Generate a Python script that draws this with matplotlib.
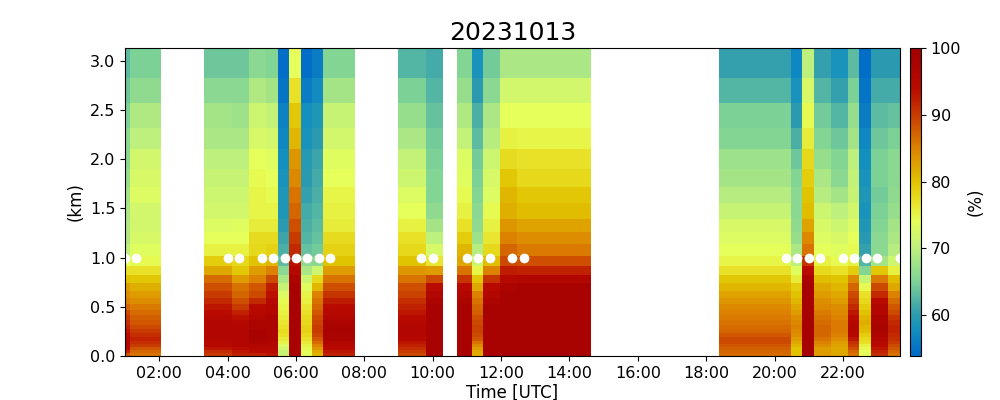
import numpy as np
import matplotlib
matplotlib.use('Agg')
import matplotlib.pyplot as plt
from matplotlib.colors import LinearSegmentedColormap, Normalize

# height edges of the profile levels, km, top to bottom
height_edges = [3.132, 2.83, 2.57, 2.32, 2.10, 1.905, 1.72, 1.553, 1.397, 1.264,
                1.139, 1.02, 0.919, 0.827, 0.746, 0.664, 0.593, 0.529, 0.468, 0.417,
                0.366, 0.315, 0.275, 0.234, 0.19, 0.15, 0.119, 0.089, 0.058, 0.027, 0.0]

# relative humidity (%), top level first
rh_0100 = [63, 64, 65, 66, 66, 67, 68, 68.5, 69, 69, 70, 74, 77, 80, 83, 84, 85, 87, 89, 90, 91, 92, 93, 94, 95, 96, 96, 95, 92, 88]
rh_0120 = [65, 66.5, 69, 70, 72, 72.5, 73, 72, 72, 72.5, 73.5, 74.5, 77, 79.5, 81.5, 83, 84, 85.5, 86.5, 87.5, 88, 89, 90, 91, 92, 91, 90, 88, 87, 86]
rh_0400 = [64, 66, 68, 68.5, 70, 71, 71.5, 72, 73, 74, 75.5, 79, 82, 86.5, 88.5, 90, 91.5, 93, 94, 95, 96, 96, 96, 96, 96, 95, 95, 93, 91, 90]
rh_0420 = [64, 66, 67.5, 68.5, 70, 71, 71.5, 72, 73.5, 74, 75.5, 78, 79.5, 83, 86, 87, 88.5, 90, 92, 93.5, 95, 96, 96, 96, 96, 96, 95.5, 94, 93, 92]
rh_0500 = [66, 69, 71.5, 72.5, 74, 74.5, 75, 75, 76, 77.5, 78, 80, 83, 85, 88, 89, 91.5, 94.5, 95, 96, 97, 97, 98, 98, 98, 97, 96, 95, 94, 92]
rh_0520 = [65.5, 68, 70.5, 72, 73.5, 74, 74.5, 75, 76, 77.5, 78.5, 81, 85, 89, 92.5, 93.5, 95, 96, 96, 97, 97, 97, 97, 97, 97, 96, 96, 95, 94, 93]
rh_0540 = [54.5, 55, 56.5, 57, 58, 58.5, 59, 59, 60, 61, 62, 63, 66, 68.5, 71, 73, 74.5, 75, 75.5, 76, 76.5, 77, 77.5, 77, 76, 75, 73, 72, 71, 71]
rh_0600 = [74, 77, 79.5, 81, 83.5, 84.5, 86, 87, 88.5, 90, 91.5, 93.5, 95, 97, 98, 98, 98, 98, 98, 98, 98, 98, 98, 98, 98, 98, 98, 98, 98, 98]
rh_0620 = [54.5, 56, 58, 58.5, 59.5, 60, 60.5, 61.5, 62, 62.5, 63.5, 66.5, 68.5, 71.5, 73.5, 75, 75.5, 76.5, 77, 77.5, 78, 78.5, 78.5, 78, 77, 76, 75, 74.5, 74, 74]
rh_0640 = [56, 57.5, 59, 60, 61, 61.5, 62, 62.5, 63, 63.5, 64.5, 66, 71.5, 78, 81, 85, 86, 87, 88, 89, 89.5, 90, 90, 89.5, 88, 86.5, 85, 83.5, 82, 81]
rh_0700 = [65.5, 68, 71, 72, 73.5, 74, 75, 75.5, 76, 77.5, 78.5, 80, 83, 86, 88.5, 90.5, 92.5, 94, 95, 96, 97, 97.5, 98, 97.5, 97, 96, 95, 94, 93, 92]
rh_0940 = [62.5, 65, 67, 68.5, 70.5, 71.5, 73, 74, 75.5, 77, 78, 80, 83.5, 86, 88.5, 89.5, 91, 92, 93, 94, 95, 95.5, 96, 96, 95, 93, 92, 91, 90, 89]
rh_1000 = [61.5, 62.5, 63.5, 64.5, 65, 65.5, 65.5, 66.5, 68, 70, 72.5, 76.5, 83, 89, 94, 96, 97, 98, 98, 98, 98, 98, 98, 98, 98, 98, 98, 98, 98, 98]
rh_1100 = [65.5, 67, 69, 70.5, 73, 73.5, 74.5, 75.5, 77, 79, 81, 82, 86, 90.5, 94.5, 95.5, 97, 98, 98, 98, 98, 98, 98, 98, 98, 98, 98, 98, 98, 98]
rh_1120 = [58.5, 60, 62, 63, 64.5, 65, 65.5, 66, 66.5, 67.5, 69.5, 71.5, 75, 79.5, 82, 85, 86, 87, 87.5, 88.5, 89, 89.5, 89.5, 89, 88, 86, 84.5, 83, 82, 81.5]
rh_1140 = [64.5, 66, 68.5, 69.5, 71.5, 72.5, 73, 74.5, 75.5, 76.5, 78, 80.5, 85, 90.5, 94.5, 96, 97, 98, 98, 98, 98, 98, 98, 98, 98, 98, 98, 98, 98, 98]
rh_1220 = [68.5, 72, 74, 75.5, 77.5, 79.5, 81, 81.5, 83.5, 85, 87, 89, 92.5, 95, 97, 98, 98, 98, 98, 98, 98, 98, 98, 98, 98, 98, 98, 98, 98, 98]
rh_1240 = [68.5, 72, 74, 75, 77, 78, 79.5, 80.5, 82.5, 84, 85.5, 88.5, 92, 96, 98, 98, 98, 98, 98, 98, 98, 98, 98, 98, 98, 98, 98, 98, 98, 98]
rh_2020 = [60.5, 62.5, 65, 65.5, 67.5, 68, 69.5, 71, 72.5, 73, 74, 75, 77, 79.5, 81, 82.5, 83.5, 84.5, 85, 85.5, 86, 86.5, 87, 88, 89, 89, 88, 87.5, 87, 86.5]
rh_2040 = [57, 58.5, 60, 62, 64, 65.5, 66, 66, 66.5, 67, 68.5, 70, 73.5, 76, 79, 80, 81, 82, 83, 84, 84.5, 85, 84.5, 84, 83, 82, 81, 80, 80, 80]
rh_2100 = [70, 72.5, 74.5, 76, 78, 79, 80, 80.5, 82.5, 84.5, 86, 90.5, 94, 97.5, 98.5, 98.5, 98.5, 98.5, 98.5, 98.5, 98.5, 98.5, 98.5, 98.5, 98.5, 98.5, 98.5, 98.5, 98.5, 98.5]
rh_2120 = [60.5, 62.5, 64.5, 65.5, 67, 68.5, 69.5, 71.5, 72.5, 73, 74, 75.5, 78, 80.5, 82, 83, 84, 84.5, 85.5, 86, 86.5, 87, 87, 87, 86, 85, 84, 83, 83, 83]
rh_2200 = [58.5, 60.5, 62.5, 64, 65.5, 66, 68, 70, 71.5, 72.5, 73.5, 74.5, 77, 80, 81, 82, 83, 84, 84.5, 85, 85.5, 85.5, 85.5, 85, 84, 83, 82.5, 82, 82, 82]
rh_2220 = [63, 65, 67, 68, 70, 70.5, 71, 72, 73, 74, 74.5, 75.5, 79, 84.5, 87, 89, 90, 91.5, 93, 94, 95, 96, 96, 95, 93, 91, 90, 88.5, 87, 86]
rh_2240 = [54.5, 55, 56, 57, 58, 58.5, 59, 58.5, 59, 59.5, 60.5, 62.5, 65.5, 71, 74.5, 77, 78, 79, 80, 81, 81.5, 81, 80.5, 79, 78, 77, 75.5, 74.5, 74, 74]
rh_2300 = [60, 61.5, 63, 64, 65, 65, 64.5, 65, 65.5, 66, 66, 68, 79.5, 85.5, 89, 91.5, 94.5, 95.5, 96, 97, 97, 97.5, 97.5, 97, 96, 95, 94, 93, 92, 91]
rh_2340 = [60, 61.5, 63.5, 65, 66, 66, 66.5, 67, 68, 68.5, 69.5, 71.5, 75.5, 80.5, 82, 85, 86.5, 88, 89, 90.5, 91.5, 92, 92, 91.5, 91, 90, 89, 88, 87, 86]

# continuous runs of profiles, with their time edges (hours UTC); white between runs
blocks = [
    ([1.0, 1.146, 2.053], [rh_0100, rh_0120]),
    ([3.311, 4.130, 4.627, 5.124, 5.475, 5.797, 6.148, 6.469, 6.791, 7.727],
     [rh_0400, rh_0420, rh_0500, rh_0520, rh_0540, rh_0600, rh_0620, rh_0640, rh_0700]),
    ([8.985, 9.804, 10.301], [rh_0940, rh_1000]),
    ([10.710, 11.149, 11.471, 11.968, 12.465, 14.630],
     [rh_1100, rh_1120, rh_1140, rh_1220, rh_1240]),
    ([18.374, 20.480, 20.801, 21.152, 21.649, 22.147, 22.468, 22.819, 23.316, 23.667],
     [rh_2020, rh_2040, rh_2100, rh_2120, rh_2200, rh_2220, rh_2240, rh_2300, rh_2340]),
]

# profile times marked at 1 km
marker_times = ['01:00', '01:20', '04:00', '04:20', '05:00', '05:20', '05:40', '06:00', '06:20', '06:40', '07:00',
                '09:40', '10:00', '11:00', '11:20', '11:40', '12:20', '12:40',
                '20:20', '20:40', '21:00', '21:20', '22:00', '22:20', '22:40', '23:00', '23:40']
marker_height = 1.0

tick_hours = [2, 4, 6, 8, 10, 12, 14, 16, 18, 20, 22]
tick_labels = ['02:00', '04:00', '06:00', '08:00', '10:00', '12:00', '14:00', '16:00', '18:00', '20:00', '22:00']

# colour scale
cmap_values = [53.9, 58, 60, 65, 70, 74, 77, 80, 85, 90, 94, 100]
cmap_colors = ['#0069c8', '#1491be', '#2d9baf', '#7dd296', '#bef07d', '#e6ff5a',
               '#e8e128', '#e1c300', '#dc8200', '#c83c00', '#b90a00', '#a00000']
vmin, vmax = 53.9, 100

stops = [(v - vmin) / (vmax - vmin) for v in cmap_values]
rh_cmap = LinearSegmentedColormap.from_list('rh', list(zip(stops, cmap_colors)))
norm = Normalize(vmin=vmin, vmax=vmax)

fig = plt.figure(figsize=(10, 4), dpi=100)
ax = fig.add_axes([0.125, 0.11, 0.775, 0.77])
cax = fig.add_axes([0.91, 0.11, 0.011, 0.77])

for time_edges, columns in blocks:
    z = np.array(columns).T
    mesh = ax.pcolormesh(time_edges, height_edges, z, cmap=rh_cmap, norm=norm, shading='flat')

hours = [int(t[:2]) + int(t[3:]) / 60 for t in marker_times]
ax.plot(hours, [marker_height] * len(hours), 'o', color='white', markersize=7,
        markeredgewidth=0, antialiased=False)

ax.set_xlim(1.0, 23.667)
ax.set_ylim(0, 3.132)
ax.set_xticks(tick_hours)
ax.set_xticklabels(tick_labels)
ax.set_yticks([0, 0.5, 1.0, 1.5, 2.0, 2.5, 3.0])
ax.tick_params(labelsize=11.5)
ax.set_xlabel('Time [UTC]', fontsize=12, labelpad=2)
ax.set_ylabel('(km)', fontsize=12, labelpad=4)
ax.set_title('20231013', fontsize=18)

cb = fig.colorbar(mesh, cax=cax)
cb.set_ticks([60, 70, 80, 90, 100])
cb.ax.tick_params(labelsize=11.5)
cb.set_label('(%)', fontsize=12, labelpad=4)

fig.savefig('out.png', dpi=100)
